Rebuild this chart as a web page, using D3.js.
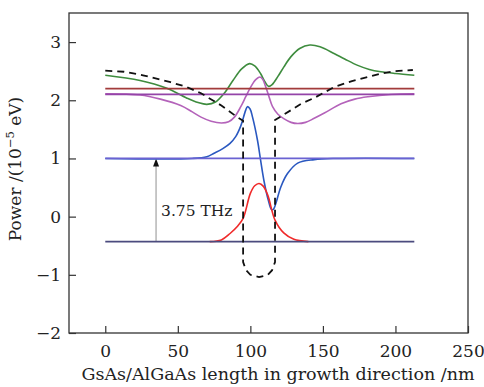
<!DOCTYPE html>
<html>
<head>
<meta charset="utf-8">
<script src="https://cdn.jsdelivr.net/npm/d3@7"></script>
<style>
  body { margin: 0; background: #fff; }
  svg { display: block; font-family: "DejaVu Serif", serif; }
</style>
</head>
<body>
<script>
// energy levels (10^-5 eV), drawn from x=0 to x=213 nm
let levelX = [0, 213];
let levelValues = [2.2, 2.1, 1.0, -0.43];
let levelColors = ['#a23b3b', '#9444a8', '#6a62d2', '#4b4b7e'];

// potential profile (dashed)
let potX = [0, 13, 26, 45, 56, 66, 80, 91, 95, 95, 97, 100, 106, 112, 115, 117, 117, 128, 135, 144, 158, 170, 181, 190, 199, 212];
let potY = [2.51, 2.49, 2.43, 2.31, 2.23, 2.12, 1.91, 1.71, 1.65, -0.78, -0.92, -1.0, -1.04, -1.0, -0.92, -0.78, 1.66, 1.83, 1.94, 2.04, 2.23, 2.33, 2.40, 2.46, 2.50, 2.52];

// wavefunctions
let greenX = [0, 24, 42, 56, 64, 70, 76, 82, 88, 94, 99.5, 103, 107, 110, 112.5, 115, 119, 123, 128, 134, 141, 148, 158, 165, 174, 182, 190, 200, 213];
let greenY = [2.43, 2.34, 2.21, 2.04, 1.96, 1.93, 1.97, 2.12, 2.34, 2.54, 2.63, 2.59, 2.46, 2.32, 2.24, 2.27, 2.41, 2.57, 2.75, 2.89, 2.95, 2.92, 2.80, 2.71, 2.60, 2.53, 2.49, 2.46, 2.43];

let magentaX = [0, 24, 38, 52, 60, 66, 73, 80, 85, 89, 93.4, 97, 100.3, 103.5, 106.6, 108.5, 110.6, 113, 115.3, 119, 123.3, 128, 132.6, 138, 144, 151, 162.5, 172, 181, 197, 213];
let magentaY = [2.11, 2.09, 2.02, 1.91, 1.80, 1.71, 1.64, 1.61, 1.63, 1.71, 1.89, 2.07, 2.23, 2.35, 2.40, 2.36, 2.23, 2.05, 1.89, 1.76, 1.68, 1.62, 1.60, 1.62, 1.69, 1.78, 1.94, 2.02, 2.06, 2.10, 2.11];

let blueX = [0, 60, 70, 75, 81, 86, 90, 93.4, 96.8, 98, 99.8, 101.5, 105, 107, 109.5, 112.3, 114.6, 116, 117.6, 121, 125.6, 132.6, 144, 160, 213];
let blueY = [1.0, 1.0, 1.03, 1.09, 1.17, 1.26, 1.38, 1.56, 1.83, 1.89, 1.85, 1.71, 1.30, 0.98, 0.60, 0.29, 0.12, 0.13, 0.23, 0.51, 0.74, 0.92, 0.98, 1.0, 1.0];

let redX = [72, 80, 86, 91, 95, 100, 103, 106, 109, 112, 117, 123, 130, 140];
let redY = [-0.43, -0.40, -0.29, -0.17, -0.03, 0.40, 0.53, 0.57, 0.52, 0.37, -0.06, -0.28, -0.39, -0.43];

// axes
let xTicks = [0, 50, 100, 150, 200, 250];
let yTicks = [-2, -1, 0, 1, 2, 3];
let arrowX = 35;
let arrowFrom = -0.43, arrowTo = 1.0;
let arrowLabel = '3.75 THz';

let width = 484, height = 387;
let margin = {top: 13, right: 16, bottom: 54, left: 69};

let svg = d3.select('body').append('svg')
    .attr('width', width)
    .attr('height', height);

let x = d3.scaleLinear().domain([-25, 250]).range([margin.left, width - margin.right]);
let y = d3.scaleLinear().domain([-2, 3.5]).range([height - margin.bottom, margin.top]);

let line = d3.line().x(d => x(d[0])).y(d => y(d[1]));
let smooth = d3.line().x(d => x(d[0])).y(d => y(d[1])).curve(d3.curveCatmullRom.alpha(0.5));
let zip = (a, b) => a.map((v, i) => [v, b[i]]);

// arrow
svg.append('line')
    .attr('x1', x(arrowX)).attr('x2', x(arrowX))
    .attr('y1', y(arrowFrom)).attr('y2', y(arrowTo) + 6)
    .attr('stroke', '#aaa').attr('stroke-width', 1.3);
svg.append('path')
    .attr('d', `M${x(arrowX)},${y(arrowTo)} l-3,8 l6,0 z`)
    .attr('fill', '#111');
svg.append('text')
    .attr('x', x(arrowX) + 5).attr('y', y(0.2) + 11)
    .attr('font-size', 15.5)
    .attr('fill', '#222')
    .text(arrowLabel);

// wavefunctions
let curves = [
    [greenX, greenY, '#3e8c3e'],
    [magentaX, magentaY, '#b463ba'],
    [blueX, blueY, '#2a58c0'],
    [redX, redY, '#f02a2a']
];
curves.forEach(c => {
    svg.append('path')
        .attr('d', smooth(zip(c[0], c[1])))
        .attr('fill', 'none')
        .attr('stroke', c[2])
        .attr('stroke-width', 1.6);
});

// level lines
levelValues.forEach((v, i) => {
    svg.append('path')
        .attr('d', line(levelX.map(xx => [xx, v])))
        .attr('fill', 'none')
        .attr('stroke', levelColors[i])
        .attr('stroke-width', 1.8);
});

// potential
svg.append('path')
    .attr('d', line(zip(potX, potY)))
    .attr('fill', 'none')
    .attr('stroke', '#111')
    .attr('stroke-width', 1.8)
    .attr('stroke-dasharray', '7,5');

// frame
svg.append('rect')
    .attr('x', margin.left).attr('y', margin.top)
    .attr('width', width - margin.left - margin.right)
    .attr('height', height - margin.top - margin.bottom)
    .attr('fill', 'none')
    .attr('stroke', '#333')
    .attr('stroke-width', 1.3);

let xAxis = d3.axisBottom(x).tickValues(xTicks).tickSize(-7).tickPadding(12);
let gx = svg.append('g')
    .attr('transform', `translate(0,${height - margin.bottom})`)
    .call(xAxis);
let yAxis = d3.axisLeft(y).tickValues(yTicks).tickFormat(d3.format('d')).tickSize(-7).tickPadding(8);
let gy = svg.append('g')
    .attr('transform', `translate(${margin.left},0)`)
    .call(yAxis);
[gx, gy].forEach(g => {
    g.select('.domain').remove();
    g.selectAll('line').attr('stroke', '#333').attr('stroke-width', 1.2);
    g.selectAll('text').attr('font-size', 17).attr('font-family', '"DejaVu Serif", serif').attr('fill', '#222');
});

svg.append('text')
    .attr('x', 278)
    .attr('y', 380)
    .attr('text-anchor', 'middle')
    .attr('font-size', 17.5)
    .attr('fill', '#222')
    .text('GsAs/AlGaAs length in growth direction /nm');

let yl = svg.append('text')
    .attr('transform', 'translate(21,169) rotate(-90)')
    .attr('text-anchor', 'middle')
    .attr('font-size', 17)
    .attr('fill', '#222');
yl.append('tspan').text('Power /(10');
yl.append('tspan').attr('font-size', 11.5).attr('dy', -7).text('−5');
yl.append('tspan').attr('dy', 7).text(' eV)');
</script>
</body>
</html>
